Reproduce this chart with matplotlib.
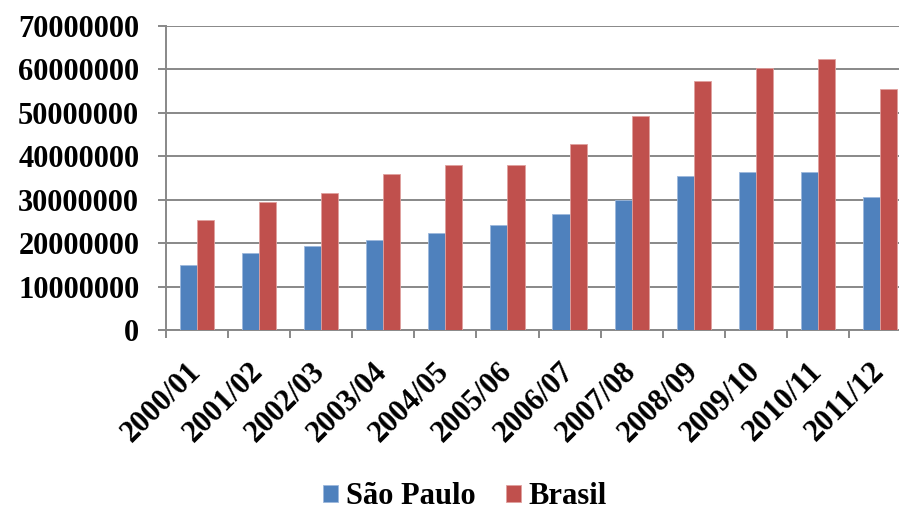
import matplotlib
matplotlib.use("Agg")
import matplotlib.pyplot as plt
import numpy as np

# safras / data from the chart
seasons = ["2000/01", "2001/02", "2002/03", "2003/04", "2004/05", "2005/06",
           "2006/07", "2007/08", "2008/09", "2009/10", "2010/11", "2011/12"]
sao_paulo = [15000000, 17600000, 19300000, 20700000, 22300000, 24100000,
             26700000, 29800000, 35400000, 36300000, 36300000, 30600000]
brasil = [25400000, 29400000, 31500000, 35900000, 38000000, 38000000,
          42800000, 49300000, 57200000, 60300000, 62400000, 55400000]

plt.rcParams['font.family'] = ['Liberation Serif', 'DejaVu Serif']
plt.rcParams['font.weight'] = 'bold'
fs = 22
grey = '#888888'

fig = plt.figure(figsize=(8.99, 5.13), dpi=100)
# the plot area runs past the right edge of the picture, as in the original
ax = fig.add_axes([165.7 / 899, 1 - 330 / 513, 745.6 / 899, (330 - 25.7) / 513])

x = np.arange(len(seasons))
w = 0.275
ax.bar(x - w / 2, sao_paulo, w, color='#4F81BD', edgecolor='#9DB8DC', linewidth=0.6,
       label='São Paulo', zorder=3)
ax.bar(x + w / 2, brasil, w, color='#C0504D', edgecolor='#E0A09E', linewidth=0.6,
       label='Brasil', zorder=3)

ax.set_ylim(0, 70000000)
ax.set_xlim(-0.5, len(seasons) - 0.5)
ax.set_yticks(np.arange(0, 70000001, 10000000))
ax.set_yticklabels([str(v) for v in range(0, 70000001, 10000000)], fontsize=fs, fontweight='bold')
ax.yaxis.grid(True, color=grey, linewidth=1.4, zorder=0)
ax.set_axisbelow(True)

ax.set_xticks(x)
ax.set_xticklabels(seasons, fontsize=fs, fontweight='bold', rotation=45,
                   ha='right', va='center', rotation_mode='anchor')
ax.set_xticks(np.arange(-0.5, len(seasons), 1), minor=True)
ax.tick_params(axis='x', which='major', length=0, pad=27)
ax.tick_params(axis='x', which='minor', length=6, width=1.4, color=grey)
ax.tick_params(axis='y', length=6, width=1.4, color=grey, pad=13)

for s in ['top', 'right']:
    ax.spines[s].set_visible(False)
for s in ['left', 'bottom']:
    ax.spines[s].set_color(grey)
    ax.spines[s].set_linewidth(1.4)

fig.legend(loc='center', bbox_to_anchor=(465 / 899, 1 - 497 / 513), ncol=2,
           frameon=False, prop={'size': fs, 'weight': 'bold'},
           handlelength=0.5, handleheight=0.5, handletextpad=0.25, columnspacing=1.0)

fig.savefig('out.png', dpi=100)
